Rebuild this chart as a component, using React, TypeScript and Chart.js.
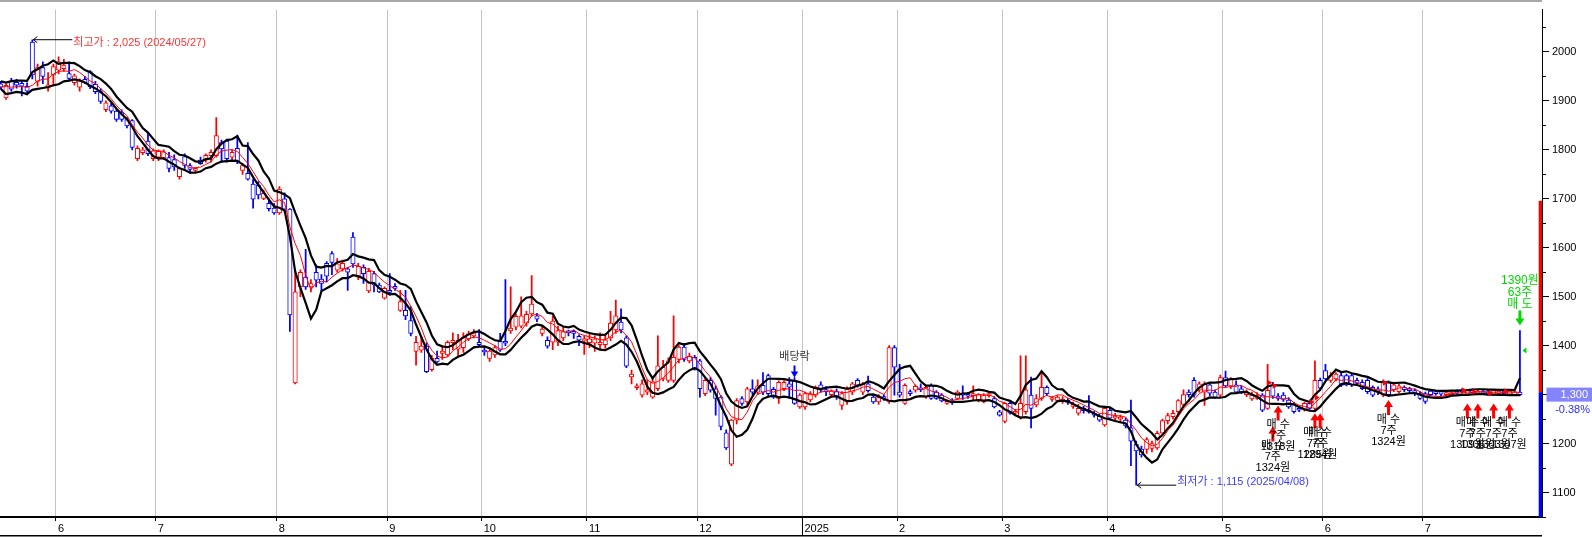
import { useEffect, useRef } from "react";
import { Chart, registerables } from "chart.js";

Chart.register(...registerables);

type OHLC = [number, number, number, number]; // open, high, low, close

// ---- daily candles, one block per month (first block: 2024-05-17 .. 05-31) ----
const may24: OHLC[] = [
  [1935, 1940, 1925, 1928], [1906, 1935, 1903, 1932], [1940, 1946, 1920, 1924], [1938, 1944, 1926, 1932],
  [1936, 1942, 1910, 1930], [1930, 1937, 1912, 1920], [2020, 2025, 1945, 1953], [1940, 1975, 1930, 1968],
  [1968, 1980, 1935, 1950], [1926, 1958, 1920, 1933], [1953, 1975, 1930, 1970],
];
const jun24: OHLC[] = [
  [1963, 1990, 1955, 1980], [1966, 1985, 1960, 1973], [1956, 1980, 1942, 1946], [1937, 1955, 1932, 1951],
  [1928, 1945, 1920, 1941], [1944, 1950, 1935, 1937], [1960, 1962, 1925, 1929], [1934, 1940, 1915, 1919],
  [1919, 1925, 1895, 1899], [1882, 1900, 1878, 1896], [1890, 1895, 1875, 1879], [1879, 1885, 1858, 1862],
  [1876, 1882, 1858, 1862], [1862, 1866, 1845, 1849], [1860, 1862, 1800, 1805], [1782, 1808, 1778, 1803],
  [1794, 1805, 1790, 1800], [1818, 1835, 1788, 1792], [1782, 1802, 1778, 1798],
];
const jul24: OHLC[] = [
  [1785, 1800, 1778, 1797], [1783, 1800, 1780, 1796], [1784, 1795, 1755, 1762], [1780, 1790, 1758, 1765],
  [1745, 1765, 1740, 1762], [1786, 1792, 1762, 1768], [1768, 1772, 1752, 1760], [1758, 1764, 1754, 1762],
  [1779, 1785, 1770, 1772], [1779, 1792, 1775, 1789], [1788, 1800, 1775, 1795], [1788, 1866, 1785, 1829],
  [1815, 1820, 1775, 1802], [1818, 1822, 1775, 1782], [1785, 1800, 1780, 1795], [1803, 1830, 1772, 1776],
  [1758, 1772, 1750, 1768], [1752, 1815, 1738, 1740], [1730, 1740, 1681, 1699], [1728, 1735, 1700, 1708],
  [1701, 1718, 1698, 1711], [1691, 1700, 1675, 1680], [1681, 1690, 1668, 1671],
];
const aug24: OHLC[] = [
  [1671, 1725, 1668, 1720], [1700, 1712, 1672, 1679], [1679, 1680, 1429, 1463], [1324, 1555, 1322, 1510],
  [1520, 1555, 1500, 1550], [1540, 1597, 1515, 1520], [1520, 1535, 1510, 1527], [1550, 1565, 1520, 1534],
  [1536, 1545, 1512, 1527], [1568, 1572, 1530, 1542], [1588, 1592, 1545, 1570], [1554, 1578, 1550, 1567],
  [1557, 1575, 1552, 1568], [1557, 1560, 1513, 1550], [1622, 1631, 1560, 1567], [1540, 1568, 1535, 1562],
  [1560, 1565, 1527, 1547], [1512, 1558, 1508, 1552], [1547, 1552, 1510, 1524], [1524, 1528, 1508, 1510],
  [1497, 1520, 1495, 1517],
];
const sep24: OHLC[] = [
  [1512, 1547, 1503, 1509], [1520, 1527, 1513, 1517], [1472, 1513, 1470, 1490], [1472, 1513, 1453, 1461],
  [1451, 1480, 1420, 1425], [1388, 1419, 1360, 1407], [1391, 1419, 1386, 1399], [1399, 1406, 1345, 1347],
  [1351, 1380, 1348, 1374], [1374, 1389, 1365, 1367], [1384, 1399, 1372, 1389], [1381, 1410, 1378, 1407],
  [1406, 1426, 1392, 1411], [1393, 1423, 1379, 1411], [1396, 1426, 1386, 1417], [1414, 1430, 1410, 1424],
  [1420, 1433, 1416, 1426], [1407, 1433, 1400, 1402],
];
const oct24: OHLC[] = [
  [1389, 1397, 1380, 1387], [1374, 1392, 1368, 1389], [1381, 1400, 1376, 1396], [1409, 1425, 1388, 1391],
  [1409, 1535, 1400, 1405], [1430, 1520, 1425, 1436], [1438, 1465, 1432, 1460], [1440, 1500, 1436, 1461],
  [1446, 1470, 1440, 1464], [1465, 1543, 1460, 1485], [1461, 1466, 1449, 1454], [1425, 1440, 1420, 1434],
  [1411, 1418, 1395, 1399], [1407, 1460, 1392, 1450], [1407, 1440, 1400, 1431], [1416, 1438, 1410, 1429],
  [1428, 1432, 1420, 1426], [1428, 1432, 1415, 1425], [1419, 1422, 1400, 1411], [1409, 1420, 1382, 1414],
];
const nov24: OHLC[] = [
  [1406, 1423, 1396, 1414], [1405, 1420, 1388, 1414], [1402, 1426, 1393, 1407], [1402, 1423, 1395, 1412],
  [1416, 1470, 1410, 1446], [1432, 1493, 1425, 1461], [1448, 1475, 1426, 1432], [1416, 1420, 1355, 1358],
  [1336, 1350, 1322, 1342], [1314, 1322, 1310, 1317], [1299, 1330, 1295, 1322], [1305, 1330, 1300, 1310],
  [1295, 1335, 1292, 1326], [1312, 1420, 1308, 1359], [1332, 1370, 1328, 1356], [1329, 1375, 1325, 1369],
  [1329, 1461, 1325, 1376], [1372, 1400, 1365, 1397], [1397, 1405, 1368, 1372], [1369, 1385, 1365, 1378],
  [1376, 1380, 1350, 1352],
];
const dec24: OHLC[] = [
  [1369, 1372, 1295, 1312], [1302, 1335, 1298, 1329], [1329, 1335, 1305, 1309], [1312, 1318, 1258, 1292],
  [1295, 1298, 1228, 1235], [1222, 1228, 1188, 1191], [1158, 1250, 1155, 1248], [1248, 1292, 1240, 1288],
  [1292, 1296, 1278, 1282], [1285, 1315, 1280, 1312], [1312, 1330, 1300, 1305], [1305, 1330, 1300, 1318],
  [1319, 1345, 1300, 1305], [1339, 1342, 1298, 1302], [1311, 1315, 1292, 1295], [1292, 1328, 1282, 1325],
  [1312, 1328, 1308, 1325], [1322, 1335, 1292, 1315], [1329, 1335, 1280, 1282], [1275, 1302, 1272, 1299],
];
const jan25: OHLC[] = [
  [1275, 1305, 1270, 1302], [1289, 1306, 1285, 1302], [1299, 1318, 1295, 1315], [1320, 1326, 1305, 1309],
  [1309, 1316, 1298, 1306], [1300, 1310, 1296, 1307], [1306, 1312, 1290, 1296], [1278, 1306, 1270, 1302],
  [1285, 1316, 1280, 1312], [1305, 1325, 1300, 1322], [1329, 1333, 1315, 1319], [1305, 1325, 1300, 1322],
  [1322, 1338, 1305, 1308], [1295, 1300, 1282, 1285], [1285, 1300, 1280, 1294], [1296, 1300, 1288, 1292],
  [1285, 1400, 1282, 1396], [1396, 1400, 1299, 1356],
];
const feb25: OHLC[] = [
  [1305, 1362, 1295, 1299], [1282, 1322, 1280, 1319], [1305, 1310, 1298, 1302], [1309, 1320, 1305, 1317],
  [1312, 1322, 1306, 1310], [1295, 1318, 1292, 1315], [1319, 1322, 1290, 1292], [1305, 1308, 1290, 1292],
  [1299, 1302, 1285, 1287], [1282, 1290, 1280, 1286], [1285, 1292, 1280, 1283], [1292, 1308, 1290, 1305],
  [1302, 1318, 1290, 1299], [1300, 1304, 1292, 1297], [1298, 1318, 1288, 1301], [1287, 1302, 1285, 1300],
  [1285, 1302, 1283, 1299], [1298, 1302, 1295, 1300], [1292, 1296, 1273, 1275], [1265, 1268, 1256, 1258],
];
const mar25: OHLC[] = [
  [1245, 1284, 1242, 1282], [1282, 1286, 1260, 1262], [1262, 1270, 1258, 1266], [1253, 1379, 1250, 1282],
  [1265, 1379, 1260, 1310], [1299, 1336, 1232, 1272], [1279, 1300, 1275, 1292], [1292, 1345, 1288, 1315],
  [1315, 1318, 1298, 1302], [1290, 1296, 1286, 1293], [1288, 1298, 1285, 1295], [1286, 1296, 1282, 1291],
  [1288, 1292, 1280, 1284], [1276, 1285, 1272, 1280], [1262, 1280, 1258, 1272], [1272, 1276, 1262, 1267],
  [1268, 1298, 1262, 1264], [1262, 1266, 1254, 1258], [1256, 1260, 1245, 1248], [1238, 1275, 1235, 1272],
];
const apr25: OHLC[] = [
  [1268, 1272, 1250, 1252], [1252, 1262, 1246, 1256], [1250, 1258, 1242, 1254], [1248, 1252, 1232, 1236],
  [1232, 1289, 1155, 1205], [1199, 1205, 1115, 1185], [1189, 1195, 1172, 1177], [1188, 1212, 1180, 1208],
  [1190, 1205, 1183, 1200], [1191, 1225, 1188, 1221], [1221, 1250, 1218, 1247], [1247, 1262, 1240, 1257],
  [1255, 1268, 1250, 1262], [1265, 1290, 1260, 1288], [1280, 1310, 1276, 1300], [1305, 1310, 1295, 1300],
  [1329, 1335, 1295, 1299], [1309, 1326, 1305, 1322], [1305, 1326, 1278, 1322], [1320, 1325, 1298, 1303],
  [1305, 1310, 1292, 1295], [1299, 1340, 1295, 1335],
];
const may25: OHLC[] = [
  [1335, 1348, 1315, 1318], [1318, 1335, 1312, 1332], [1320, 1328, 1302, 1305], [1312, 1318, 1302, 1304],
  [1300, 1310, 1296, 1305], [1291, 1305, 1288, 1299], [1292, 1304, 1290, 1299], [1299, 1302, 1265, 1268],
  [1272, 1362, 1270, 1309], [1319, 1325, 1292, 1297], [1297, 1302, 1288, 1292], [1299, 1304, 1286, 1290],
  [1289, 1294, 1272, 1275], [1280, 1284, 1262, 1265], [1272, 1276, 1265, 1268], [1270, 1285, 1266, 1282],
  [1282, 1286, 1270, 1272], [1272, 1369, 1268, 1329], [1329, 1334, 1308, 1313],
];
const jun25: OHLC[] = [
  [1349, 1362, 1330, 1332], [1329, 1345, 1325, 1339], [1332, 1345, 1328, 1342], [1339, 1344, 1316, 1319],
  [1339, 1342, 1318, 1320], [1339, 1342, 1316, 1320], [1329, 1334, 1320, 1323], [1325, 1330, 1310, 1312],
  [1329, 1333, 1302, 1306], [1315, 1318, 1296, 1299], [1312, 1316, 1300, 1305], [1299, 1330, 1296, 1325],
  [1325, 1328, 1296, 1300], [1310, 1325, 1306, 1320], [1306, 1322, 1303, 1318], [1315, 1318, 1306, 1310],
  [1312, 1315, 1303, 1308], [1308, 1312, 1298, 1302], [1302, 1306, 1290, 1292],
];
const jul25: OHLC[] = [
  [1302, 1305, 1282, 1286], [1307, 1310, 1298, 1300], [1306, 1308, 1299, 1302], [1306, 1309, 1298, 1301],
  [1300, 1306, 1297, 1304], [1300, 1307, 1298, 1304], [1307, 1310, 1301, 1303], [1309, 1312, 1303, 1305],
  [1301, 1311, 1299, 1309], [1309, 1312, 1302, 1304], [1303, 1310, 1300, 1307], [1307, 1310, 1301, 1303],
  [1306, 1309, 1298, 1301], [1300, 1310, 1298, 1308], [1302, 1309, 1300, 1307], [1307, 1310, 1300, 1302],
  [1301, 1310, 1299, 1307], [1300, 1308, 1298, 1305], [1305, 1431, 1298, 1300],
];

const monthBlocks: OHLC[][] = [may24, jun24, jul24, aug24, sep24, oct24, nov24, dec24, jan25, feb25, mar25, apr25, may25, jun25, jul25];
const monthLabels = ["", "6", "7", "8", "9", "10", "11", "12", "2025", "2", "3", "4", "5", "6", "7"];

const yLabelTicks = [1100, 1200, 1300, 1400, 1500, 1600, 1700, 1800, 1900, 2000];
const yMinorTicks = [1050, 1150, 1250, 1350, 1450, 1550, 1650, 1750, 1850, 1950, 2050];

const highMark = { day: 6, price: 2025, text: "최고가 : 2,025 (2024/05/27)" };
const lowMark = { day: 216, price: 1115, text: "최저가 : 1,115 (2025/04/08)" };
const exDividend = { day: 151, text: "배당락" };
const buyMarkers = [
  { day: 242, tip: 1235, price: 1324, qty: 7 },
  { day: 243, tip: 1278, price: 1318, qty: 7 },
  { day: 250, tip: 1262, price: 1285, qty: 7 },
  { day: 251, tip: 1262, price: 1294, qty: 7 },
  { day: 264, tip: 1289, price: 1324, qty: 7 },
  { day: 279, tip: 1282, price: 1309, qty: 7 },
  { day: 281, tip: 1282, price: 1306, qty: 7 },
  { day: 284, tip: 1282, price: 1303, qty: 7 },
  { day: 287, tip: 1282, price: 1307, qty: 7 },
];
const sellMarker = { day: 289, price: 1390, qty: 63 };
const lastPrice = 1300;
const prevClose = 1305;
const changeText = "-0.38%";
const axisBarTop = 1696;

// ---------------------------------------------------------------
const candles: OHLC[] = monthBlocks.flat();
const monthStarts: number[] = [];
{
  let acc = 0;
  monthBlocks.forEach((b) => { monthStarts.push(acc); acc += b.length; });
}

function movingAverage(values: number[], period: number): number[] {
  return values.map((_, i) => {
    const s = Math.max(0, i - period + 1);
    let sum = 0;
    for (let k = s; k <= i; k++) sum += values[k];
    return sum / (i - s + 1);
  });
}

const RED = "#ff0000";
const BLUE = "#0000ff";
const FONT = "'Liberation Sans', 'Noto Sans CJK KR', Arial, sans-serif";

export default function App() {
  const ref = useRef<HTMLCanvasElement | null>(null);

  useEffect(() => {
    document.body.style.margin = "0";
    const canvas = ref.current;
    if (!canvas) return;

    const colors = candles.map((c) => (c[3] >= c[0] ? RED : BLUE));
    const closes = candles.map((c) => c[3]);
    const highs = candles.map((c) => c[1]);
    const lows = candles.map((c) => c[2]);
    const ma = movingAverage(closes, 5);
    const upper = movingAverage(highs, 5);
    const lower = movingAverage(lows, 5);

    const tickDefs = monthStarts
      .map((s, k) => ({ value: s - 0.5, label: monthLabels[k] }))
      .filter((t) => t.label !== "");

    const decor = {
      id: "decor",
      afterDatasetsDraw(chart: any) {
        const ctx: CanvasRenderingContext2D = chart.ctx;
        const xs = chart.scales.x;
        const ys = chart.scales.y;
        ctx.save();

        // high / low annotations
        const drawMark = (m: { day: number; price: number; text: string }, color: string, dy: number) => {
          const px = xs.getPixelForValue(m.day);
          const py = ys.getPixelForValue(m.price);
          ctx.strokeStyle = "#000";
          ctx.lineWidth = 1;
          ctx.beginPath();
          ctx.moveTo(px + 1, py);
          ctx.lineTo(px + 40, py);
          ctx.moveTo(px + 5, py - 3);
          ctx.lineTo(px + 1, py);
          ctx.lineTo(px + 5, py + 3);
          ctx.stroke();
          ctx.fillStyle = color;
          ctx.font = `11px ${FONT}`;
          ctx.textAlign = "left";
          ctx.textBaseline = "middle";
          ctx.fillText(m.text, px + 41, py + dy);
        };
        drawMark(highMark, "#ff3333", 3.5);
        drawMark(lowMark, "#3c3cff", -3.5);

        // ex-dividend
        {
          const px = xs.getPixelForValue(exDividend.day);
          const tip = ys.getPixelForValue(candles[exDividend.day][1]);
          ctx.fillStyle = BLUE;
          ctx.fillRect(px - 1, tip - 12, 2, 7);
          ctx.beginPath();
          ctx.moveTo(px - 3.7, tip - 6);
          ctx.lineTo(px + 3.7, tip - 6);
          ctx.lineTo(px, tip);
          ctx.closePath();
          ctx.fill();
          ctx.fillStyle = "#333";
          ctx.font = `11px ${FONT}`;
          ctx.textAlign = "center";
          ctx.textBaseline = "middle";
          ctx.fillText(exDividend.text, px, tip - 21);
        }

        // buy markers
        buyMarkers.forEach((m) => {
          const px = xs.getPixelForValue(m.day);
          const tip = ys.getPixelForValue(m.tip);
          const fy = ys.getPixelForValue(m.price);
          ctx.fillStyle = RED;
          ctx.beginPath();
          ctx.moveTo(px - 0.5, fy);
          ctx.lineTo(px - 5.5, fy - 3);
          ctx.lineTo(px - 5.5, fy + 3);
          ctx.closePath();
          ctx.fill();
          ctx.beginPath();
          ctx.moveTo(px, tip);
          ctx.lineTo(px + 4.5, tip + 7);
          ctx.lineTo(px + 1.5, tip + 7);
          ctx.lineTo(px + 1.5, tip + 15);
          ctx.lineTo(px - 1.5, tip + 15);
          ctx.lineTo(px - 1.5, tip + 7);
          ctx.lineTo(px - 4.5, tip + 7);
          ctx.closePath();
          ctx.fill();
          ctx.fillStyle = "#000";
          ctx.font = `11px ${FONT}`;
          ctx.textAlign = "center";
          ctx.textBaseline = "middle";
          const lines = ["매 수", `${m.qty}주`, `${m.price}원`];
          lines.forEach((t, k) => ctx.fillText(t, px, tip + 20 + k * 11));
        });

        // sell marker
        {
          const px = xs.getPixelForValue(sellMarker.day);
          const tip = ys.getPixelForValue(candles[sellMarker.day][1]) - 5;
          const fy = ys.getPixelForValue(sellMarker.price);
          const GREEN = "#00d800";
          ctx.fillStyle = GREEN;
          ctx.beginPath();
          ctx.moveTo(px + 2.5, fy);
          ctx.lineTo(px + 6.5, fy - 3);
          ctx.lineTo(px + 6.5, fy + 3);
          ctx.closePath();
          ctx.fill();
          ctx.fillRect(px - 1.5, tip - 15, 3, 9);
          ctx.beginPath();
          ctx.moveTo(px - 4.5, tip - 7);
          ctx.lineTo(px + 4.5, tip - 7);
          ctx.lineTo(px, tip);
          ctx.closePath();
          ctx.fill();
          ctx.font = `12px ${FONT}`;
          ctx.textAlign = "center";
          ctx.textBaseline = "middle";
          const lines = [`${sellMarker.price}원`, `${sellMarker.qty}주`, "매 도"];
          lines.forEach((t, k) => ctx.fillText(t, px, tip - 15 - 6 - (2 - k) * 12));
        }
        ctx.restore();
      },
      afterDraw(chart: any) {
        const ctx: CanvasRenderingContext2D = chart.ctx;
        const area = chart.chartArea;
        const xs = chart.scales.x;
        const ys = chart.scales.y;
        const H = chart.height;
        ctx.save();
        ctx.fillStyle = "#a8a8a8";
        ctx.fillRect(0, 0, area.right, 2);
        ctx.fillStyle = "#000";
        ctx.fillRect(0, H - 2, area.right, 1.5);
        const yearTick = tickDefs.find((t) => t.label === "2025");
        if (yearTick) {
          const x = Math.round(xs.getPixelForValue(yearTick.value)) + 0.5;
          ctx.strokeStyle = "#000";
          ctx.lineWidth = 1;
          ctx.beginPath();
          ctx.moveTo(x, area.bottom);
          ctx.lineTo(x, H - 2);
          ctx.stroke();
        }
        const yTop = ys.getPixelForValue(axisBarTop);
        const yMid = ys.getPixelForValue(prevClose);
        ctx.fillStyle = RED;
        ctx.fillRect(area.right - 3.3, yTop, 3.3, yMid - yTop);
        ctx.fillStyle = BLUE;
        ctx.fillRect(area.right - 3.3, yMid, 3.3, area.bottom - yMid);
        ctx.strokeStyle = "#000";
        ctx.lineWidth = 1;
        ctx.beginPath();
        yMinorTicks.forEach((v) => {
          const y = Math.round(ys.getPixelForValue(v)) + 0.5;
          ctx.moveTo(area.right, y);
          ctx.lineTo(area.right + 4, y);
        });
        ctx.stroke();
        const py = ys.getPixelForValue(lastPrice);
        ctx.fillStyle = "#8484ff";
        ctx.fillRect(area.right + 4.5, py - 7, chart.width - area.right - 4.5, 14);
        ctx.font = `11px ${FONT}`;
        ctx.textAlign = "right";
        ctx.textBaseline = "middle";
        ctx.fillStyle = "#ffffff";
        ctx.fillText(lastPrice.toLocaleString("en-US"), chart.width - 4, py);
        ctx.fillStyle = "#2b2bff";
        ctx.fillText(changeText, chart.width - 2, py + 15);
        ctx.restore();
      },
    };

    const chart = new Chart(canvas, {
      type: "bar",
      data: {
        datasets: [
          {
            type: "line",
            label: "MA5",
            data: ma.map((v, i) => ({ x: i, y: v })),
            borderColor: RED,
            borderWidth: 1,
            pointRadius: 0,
            tension: 0,
            fill: false,
            order: 0,
          },
          {
            type: "line",
            label: "upper",
            data: upper.map((v, i) => ({ x: i, y: v })),
            borderColor: "#000",
            borderWidth: 2.2,
            pointRadius: 0,
            tension: 0,
            fill: false,
            order: 0,
          },
          {
            type: "line",
            label: "lower",
            data: lower.map((v, i) => ({ x: i, y: v })),
            borderColor: "#000",
            borderWidth: 2.2,
            pointRadius: 0,
            tension: 0,
            fill: false,
            order: 0,
          },
          {
            type: "bar",
            label: "body",
            data: candles.map((c, i) => ({ x: i, y: [Math.min(c[0], c[3]), Math.max(c[0], c[3])] })),
            backgroundColor: "#ffffff",
            borderColor: colors,
            borderWidth: 1,
            borderSkipped: false,
            barThickness: 4.4,
            minBarLength: 2,
            grouped: false,
            order: 1,
          },
          {
            type: "bar",
            label: "wick",
            data: candles.map((c, i) => ({ x: i, y: [c[2], c[1]] })),
            backgroundColor: colors,
            borderWidth: 0,
            barThickness: 1.1,
            grouped: false,
            order: 2,
          },
        ] as any,
      },
      options: {
        animation: false,
        responsive: false,
        maintainAspectRatio: false,
        layout: { padding: { top: 2, left: 0, right: 0, bottom: 0 } },
        plugins: { legend: { display: false }, tooltip: { enabled: false } },
        scales: {
          x: {
            type: "linear",
            min: -0.149,
            max: 293.2,
            offset: false,
            afterBuildTicks: (s: any) => {
              s.ticks = tickDefs.map((t) => ({ value: t.value }));
            },
            afterFit: (s: any) => {
              s.height = 20;
            },
            ticks: {
              autoSkip: false,
              maxRotation: 0,
              minRotation: 0,
              align: "start",
              labelOffset: 2,
              padding: 1,
              color: "#000",
              font: { size: 11, family: FONT },
              callback: (_v: any, idx: number) => tickDefs[idx]?.label ?? "",
            },
            grid: {
              offset: false,
              color: "#c4c4c4",
              lineWidth: 1,
              tickLength: 4,
              tickColor: "#000",
            },
            border: { color: "#000", width: 2 },
          },
          y: {
            type: "linear",
            position: "right",
            min: 1050,
            max: 2086.5,
            afterBuildTicks: (s: any) => {
              s.ticks = yLabelTicks.map((v) => ({ value: v }));
            },
            afterFit: (s: any) => {
              s.width = 50;
            },
            ticks: {
              autoSkip: false,
              padding: 3,
              color: "#000",
              font: { size: 11, family: FONT },
              callback: (v: any) => String(v),
            },
            grid: { drawOnChartArea: false, tickLength: 7, tickColor: "#000" },
            border: { color: "#000", width: 1 },
          },
        },
      } as any,
      plugins: [decor],
    });

    return () => chart.destroy();
  }, []);

  return (
    <div style={{ width: 1592, height: 537 }}>
      <canvas ref={ref} width={1592} height={537} style={{ display: "block", width: 1592, height: 537 }} />
    </div>
  );
}
